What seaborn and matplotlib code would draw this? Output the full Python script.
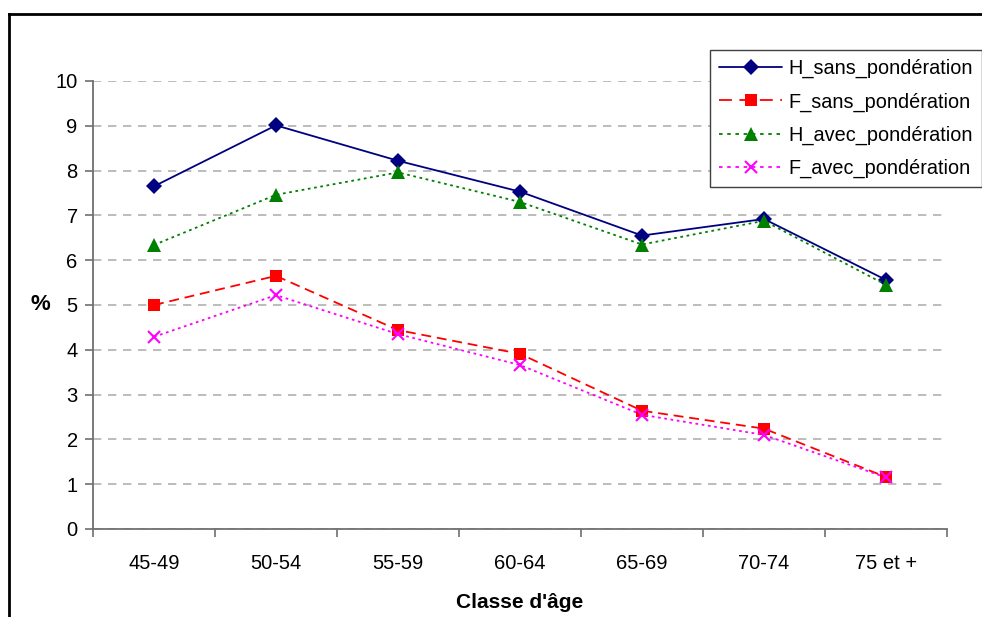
import matplotlib
matplotlib.use("Agg")
import matplotlib.pyplot as plt
import seaborn as sns
import pandas as pd
from matplotlib.lines import Line2D
from matplotlib.ticker import FixedLocator

categories = ["45-49", "50-54", "55-59", "60-64", "65-69", "70-74", "75 et +"]
h_sans = [7.65, 9.01, 8.22, 7.53, 6.55, 6.92, 5.56]
f_sans = [5.00, 5.65, 4.44, 3.91, 2.64, 2.24, 1.16]
h_avec = [6.34, 7.46, 7.96, 7.30, 6.35, 6.88, 5.45]
f_avec = [4.29, 5.22, 4.35, 3.66, 2.55, 2.10, 1.15]
series_names = ["H_sans_pondération", "F_sans_pondération", "H_avec_pondération", "F_avec_pondération"]
yticks = [0, 1, 2, 3, 4, 5, 6, 7, 8, 9, 10]

rows = []
for name, vals in zip(series_names, [h_sans, f_sans, h_avec, f_avec]):
    for c, v in zip(categories, vals):
        rows.append({"cat": c, "val": v, "serie": name})
df = pd.DataFrame(rows)

sns.set_style("white")
plt.rcParams["font.family"] = ["Liberation Sans", "DejaVu Sans"]
plt.rcParams["text.color"] = "black"
plt.rcParams["axes.labelcolor"] = "black"
plt.rcParams["xtick.labelcolor"] = "black"
plt.rcParams["ytick.labelcolor"] = "black"

W, H = 982, 617
fig = plt.figure(figsize=(W / 100, H / 100), dpi=100)
ax = fig.add_axes([93 / W, 1 - 529 / H, (947 - 93) / W, (529 - 81) / H])

LW = 1.3
colors = ["#000080", "#FF0000", "#008000", "#FF00FF"]
mks = ["D", "s", "^", "x"]
msz = [8.5, 8.0, 9.5, 9.0]
dash_list = ["", (5.5, 3.2), (1.5, 2.0), (1.5, 2.0)]
palette = dict(zip(series_names, colors))
markers = dict(zip(series_names, ["D", "s", "^", "X"]))
dashes = dict(zip(series_names, dash_list))

sns.lineplot(data=df, x="cat", y="val", hue="serie", style="serie",
             hue_order=series_names, style_order=series_names,
             palette=palette, markers=markers, dashes=dashes,
             linewidth=LW, markersize=8, sort=False, ax=ax, legend=False)

for line, ms, mk in zip(ax.lines[:4], msz, mks):
    line.set_marker(mk)
    line.set_markersize(ms)
    if mk == "x":
        line.set_markeredgewidth(1.5)
        line.set_markeredgecolor(line.get_color())
    else:
        line.set_markeredgewidth(0)

ax.set_xlim(-0.5, len(categories) - 0.5)
ax.set_ylim(0, 10)
ax.set_yticks(yticks)
ax.set_yticklabels([str(t) for t in yticks], fontsize=14.5)
ax.set_xticks(range(len(categories)))
ax.set_xticklabels(categories, fontsize=14.5)
ax.xaxis.set_minor_locator(FixedLocator([i - 0.5 for i in range(len(categories) + 1)]))
ax.tick_params(axis="x", which="major", length=0, pad=18, labelcolor="black")
ax.tick_params(axis="x", which="minor", length=6, width=1.2, color="#707070", direction="out", bottom=True)
ax.tick_params(axis="y", which="major", length=6, width=1.2, color="#707070", direction="out",
               pad=5, left=True, labelcolor="black")

ax.grid(axis="y", color="#b0b0b0", linestyle=(0, (5, 4)), linewidth=1.2)
ax.set_axisbelow(True)
for s in ["top", "right"]:
    ax.spines[s].set_visible(False)
for s in ["left", "bottom"]:
    ax.spines[s].set_color("#707070")
    ax.spines[s].set_linewidth(1.3)

ax.set_xlabel("Classe d'âge", fontsize=15, fontweight="bold", color="black")
ax.xaxis.set_label_coords((520 - 93) / 854, (529 - 602) / 448)
ax.xaxis.label.set_va("center")
ax.set_ylabel("%", fontsize=16, fontweight="bold", rotation=0, color="black")
ax.yaxis.set_label_coords((40 - 93) / 854, (529 - 305) / 448)
ax.yaxis.label.set_va("center")

handles = []
for c, mk, ms, d in zip(colors, mks, msz, dash_list):
    ls = "-" if d == "" else (0, tuple(x * LW for x in d))
    handles.append(Line2D([], [], color=c, linestyle=ls, linewidth=LW, marker=mk,
                          markersize=ms, markeredgewidth=(1.5 if mk == "x" else 0)))
leg = fig.legend(handles, series_names, loc="upper left",
                 bbox_to_anchor=(710 / W, 1 - 50 / H), bbox_transform=fig.transFigure,
                 fontsize=14.3, frameon=True, fancybox=False, framealpha=1,
                 edgecolor="#404040", handlelength=3.2, handletextpad=0.3,
                 labelspacing=0.71, borderpad=0.45, borderaxespad=0)
leg.get_frame().set_linewidth(1.0)
for t in leg.get_texts():
    t.set_color("black")

# outer frame (top and left edges visible)
fig.add_artist(Line2D([8.5 / W, 1.0], [1 - 14 / H, 1 - 14 / H], transform=fig.transFigure,
                      color="black", linewidth=2.0, solid_capstyle="projecting"))
fig.add_artist(Line2D([8.5 / W, 8.5 / W], [1 - 14 / H, 0], transform=fig.transFigure,
                      color="black", linewidth=2.0, solid_capstyle="projecting"))

fig.savefig("out.png", dpi=100)
